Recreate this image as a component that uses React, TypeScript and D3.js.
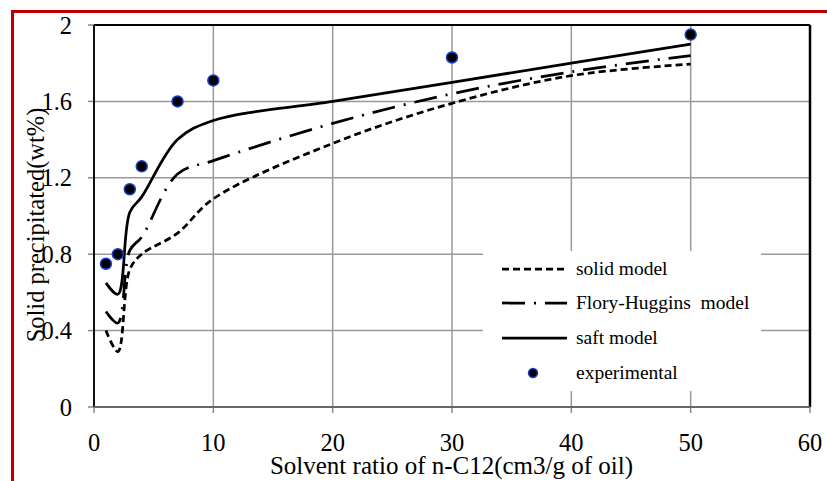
import React from "react";
import * as d3 from "d3";

const modelX = [1, 2, 3, 4, 7, 10, 20, 30, 40, 50];
const solidModel = [0.4, 0.29, 0.72, 0.8, 0.91, 1.09, 1.38, 1.59, 1.735, 1.795];
const floryHuggins = [0.5, 0.44, 0.82, 0.89, 1.22, 1.29, 1.485, 1.64, 1.755, 1.84];
const saftModel = [0.65, 0.59, 1.02, 1.1, 1.4, 1.5, 1.6, 1.7, 1.8, 1.9];

const expX = [1, 2, 3, 4, 7, 10, 30, 50];
const expY = [0.75, 0.8, 1.14, 1.26, 1.6, 1.71, 1.83, 1.95];

const xTicks = [0, 10, 20, 30, 40, 50, 60];
const yTicks = [0, 0.4, 0.8, 1.2, 1.6, 2];
const yTickLabels = ["0", "0.4", "0.8", "1.2", "1.6", "2"];

const legendLabels = ["solid model", "Flory-Huggins  model", "saft model", "experimental"];

const FONT = "'Liberation Serif', 'Times New Roman', serif";

export default function App() {
  const x = d3.scaleLinear().domain([0, 60]).range([94, 810]);
  const y = d3.scaleLinear().domain([0, 2]).range([407, 25]);

  const line = d3
    .line<number>()
    .x((_, i) => x(modelX[i]))
    .y((d) => y(d))
    .curve(d3.curveCatmullRom.alpha(0.5));

  const series = [
    { vals: solidModel, dash: "7,4" },
    { vals: floryHuggins, dash: "23,9,2,9" },
    { vals: saftModel, dash: "none" },
  ];

  const legendRows = [269, 303, 338, 373];

  return (
    <svg
      width={827}
      height={481}
      style={{ position: "absolute", left: 0, top: 0, background: "#fff" }}
      fontFamily={FONT}
    >
      <rect x={0} y={0} width={827} height={481} fill="#fff" />
      {/* red frame */}
      <rect x={12.5} y={11.5} width={900} height={600} fill="none" stroke="#c00000" strokeWidth={3} />

      {/* grid */}
      {xTicks.slice(1, -1).map((t) => (
        <line key={"gx" + t} x1={x(t)} x2={x(t)} y1={y(2)} y2={y(0)} stroke="#999" strokeWidth={1.5} />
      ))}
      {yTicks.slice(1, -1).map((t) => (
        <line key={"gy" + t} x1={x(0)} x2={x(60)} y1={y(t)} y2={y(t)} stroke="#999" strokeWidth={1.5} />
      ))}

      {/* legend background */}
      <rect x={483} y={251} width={278} height={140} fill="#fff" />

      {/* ticks */}
      {xTicks.map((t) => (
        <line key={"tx" + t} x1={x(t)} x2={x(t)} y1={y(0)} y2={y(0) + 6} stroke="#888" strokeWidth={1.5} />
      ))}
      {yTicks.map((t) => (
        <line key={"ty" + t} x1={x(0) - 6} x2={x(0)} y1={y(t)} y2={y(t)} stroke="#888" strokeWidth={1.5} />
      ))}

      {/* frame */}
      <line x1={x(0)} x2={x(60)} y1={y(2)} y2={y(2)} stroke="#000" strokeWidth={2} />
      <line x1={x(60)} x2={x(60)} y1={y(2)} y2={y(0)} stroke="#000" strokeWidth={2.5} />
      <line x1={x(0)} x2={x(0)} y1={y(2)} y2={y(0)} stroke="#111" strokeWidth={2} />
      <line x1={x(0)} x2={x(60)} y1={y(0)} y2={y(0)} stroke="#666" strokeWidth={2} />

      {/* tick labels */}
      {xTicks.map((t) => (
        <text key={"lx" + t} x={x(t)} y={451} textAnchor="middle" fontSize={24.5} fill="#000">
          {t}
        </text>
      ))}
      {yTicks.map((t, i) => (
        <text key={"ly" + t} x={72} y={y(t) + 8.5} textAnchor="end" fontSize={24.5} fill="#000">
          {yTickLabels[i]}
        </text>
      ))}

      {/* curves */}
      {series.map((s, i) => (
        <path
          key={"s" + i}
          d={line(s.vals) || ""}
          fill="none"
          stroke="#000"
          strokeWidth={2.75}
          strokeDasharray={s.dash}
        />
      ))}

      {/* experimental */}
      {expX.map((v, i) => (
        <circle key={"e" + i} cx={x(v)} cy={y(expY[i])} r={5.5} fill="#000" stroke="#1a3fd0" strokeWidth={1.5} />
      ))}

      {/* axis titles */}
      <text x={451.5} y={474} textAnchor="middle" fontSize={25} fill="#000">
        Solvent ratio of n-C12(cm3/g of oil)
      </text>
      <text transform="translate(44,225) rotate(-90)" textAnchor="middle" fontSize={24.5} fill="#000">
        Solid precipitated(wt%)
      </text>

      {/* legend */}
      {series.map((s, i) => (
        <line
          key={"ll" + i}
          x1={502}
          x2={567}
          y1={legendRows[i]}
          y2={legendRows[i]}
          stroke="#000"
          strokeWidth={2.75}
          strokeDasharray={s.dash}
        />
      ))}
      <circle cx={533} cy={legendRows[3]} r={4.5} fill="#000" stroke="#1a3fd0" strokeWidth={1.5} />
      {legendLabels.map((l, i) => (
        <text key={"lt" + i} x={576} y={legendRows[i] + 6} fontSize={19.5} fill="#000" style={{ whiteSpace: "pre" }}>
          {l}
        </text>
      ))}
    </svg>
  );
}
